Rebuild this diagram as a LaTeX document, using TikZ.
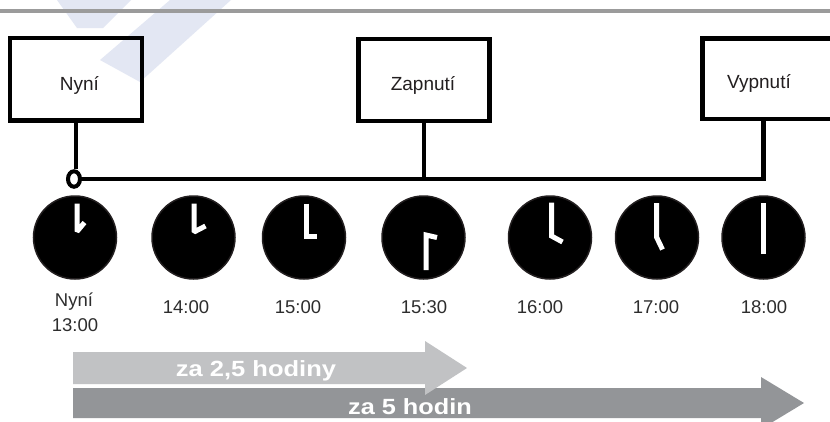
\documentclass[tikz,border=0pt]{standalone}
\usepackage{fontspec}
\setmainfont{Liberation Sans}
\usetikzlibrary{shapes.geometric}
\definecolor{wm}{RGB}{227,231,243}
\definecolor{topline}{RGB}{155,155,155}
\definecolor{lightarr}{RGB}{193,194,196}
\definecolor{darkarr}{RGB}{147,149,152}
\definecolor{txt}{RGB}{45,45,45}
\definecolor{boxtxt}{RGB}{35,31,32}
\definecolor{rim}{RGB}{35,31,32}
\begin{document}
\begin{tikzpicture}[x=1pt,y=-1pt,
  box/.style={draw=black, line width=4.5pt, rectangle, inner sep=0pt},
  boxtext/.style={anchor=base, text=boxtxt, font=\fontsize{19}{22}\selectfont, inner sep=0pt},
  lbl/.style={anchor=base, text=txt, font=\fontsize{18.5}{22}\selectfont, inner sep=0pt},
  wire/.style={draw=black, line width=4.5pt},
  ring/.style={ellipse, draw=black, fill=white, line width=4pt, minimum width=12pt, minimum height=15.5pt, inner sep=0pt},
  clock/.style={circle, fill=black, draw=rim, line width=1.5pt, minimum size=83pt, inner sep=0pt},
  hand/.style={draw=white, line width=5pt},
  arrtext/.style={text=white, font=\bfseries\fontsize{22}{26}\selectfont, anchor=base, inner sep=0pt}
]
\useasboundingbox (0,0) rectangle (830,421);
\fill[white] (0,0) rectangle (830,421);
% watermark
\fill[wm] (57,0) -- (131,0) -- (103,28) -- (77,28) -- cycle;
\fill[wm] (170,0) -- (231,0) -- (140,82) -- (100,60) -- cycle;
% top rule
\draw[topline, line width=3.2pt] (0,11) -- (830,11);
% boxes
\node[box, minimum width=132pt, minimum height=82.5pt] (nyni) at (76,79.25) {};
\node[boxtext] (tnyni) at (79.5,90) {Nyní};
\node[box, minimum width=131.2pt, minimum height=81.8pt] (zap) at (424,79.9) {};
\node[boxtext] (tzap) at (423,90) {Zapnutí};
\node[box, minimum width=157.5pt, minimum height=80.5pt] (vyp) at (781.25,78.75) {};
\node[boxtext] (tvyp) at (759,88) {Vypnutí};
% ring and wires
\node[ring] (ring) at (74,179) {};
\draw[wire] (nyni.south) -- (nyni.south |- ring.north);
\draw[wire] (zap.south) -- (zap.south |- ring.east);
\draw[wire] ([xshift=63pt]vyp.south west) |- (ring.east);
% clocks
\node[clock] (c1) at (75,237.5) {};
\node[clock] (c2) at (193.5,237.5) {};
\node[clock] (c3) at (304,237.5) {};
\node[clock] (c4) at (423.5,237.5) {};
\node[clock] (c5) at (550,237.5) {};
\node[clock] (c6) at (657,237.5) {};
\node[clock] (c7) at (763.5,237.5) {};
% hands
\draw[hand, line join=bevel] (77,203.5) -- (77,231.5) -- (84.5,222.5);
\draw[hand, line join=bevel] (194,203.5) -- (194,232) -- (205.5,226);
\draw[hand, line join=miter] (306,203.5) -- (306,236) -- (316.5,236);
\draw[hand, line join=miter] (426,270) -- (426,235) -- (437,237.5);
\draw[hand, line join=miter] (551.5,202.5) -- (551.5,236) -- (562.5,242);
\draw[hand, line join=miter] (656.5,203) -- (656.5,237) -- (662.5,249.5);
\draw[hand] (763.3,203) -- (763.3,254);
% labels
\node[lbl] (l1a) at (74,306) {Nyní};
\node[lbl] (l1b) at (75,331) {13:00};
\node[lbl] (l2) at (186,313) {14:00};
\node[lbl] (l3) at (298,313) {15:00};
\node[lbl] (l4) at (424,313) {15:30};
\node[lbl] (l5) at (540,313) {16:00};
\node[lbl] (l6) at (656,313) {17:00};
\node[lbl] (l7) at (764,313) {18:00};
% arrows
\fill[darkarr] (73,388) -- (761,388) -- (761,377) -- (804,403) -- (761,429) -- (761,418) -- (73,418) -- cycle;
\fill[lightarr] (73,352) -- (425,352) -- (425,341) -- (467,368) -- (425,395) -- (425,384) -- (73,384) -- cycle;
\node[arrtext] (a1) at (256,376) {\scalebox{1.16}[1]{za 2,5 hodiny}};
\node[arrtext] (a2) at (410,414) {\scalebox{1.15}[1]{za 5 hodin}};
\end{tikzpicture}
\end{document}
